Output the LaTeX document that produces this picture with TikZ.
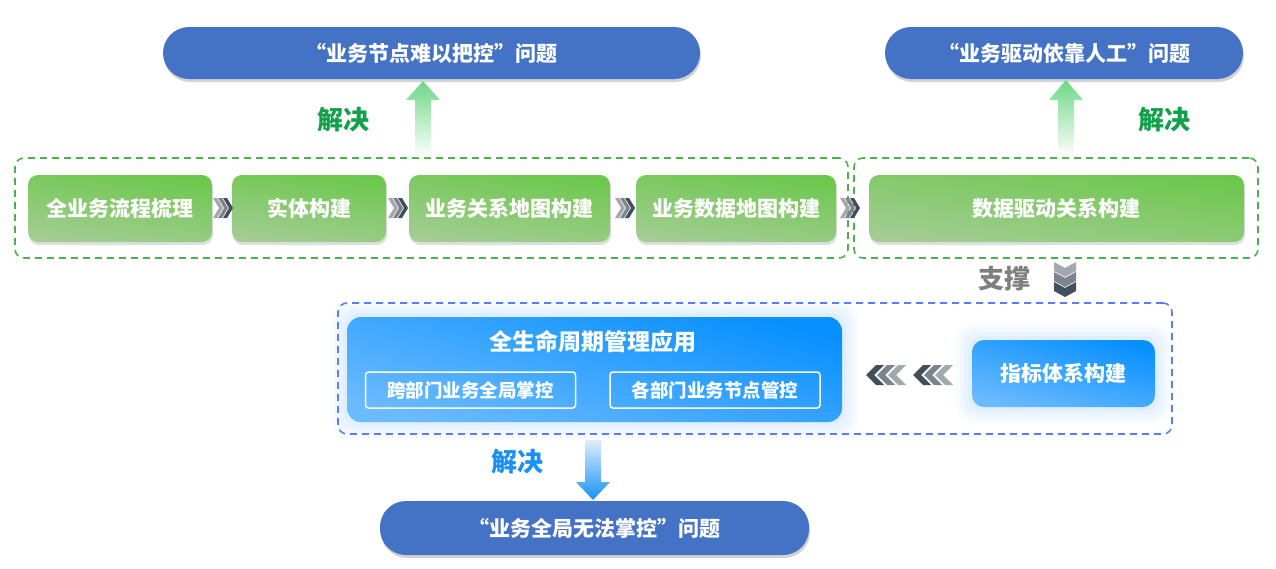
\documentclass[tikz,border=0pt]{standalone}
\usepackage{fontspec}
\setmainfont{Noto Sans CJK SC}
\usetikzlibrary{shadows}
\definecolor{pillblue}{HTML}{4472C4}
\definecolor{gA}{HTML}{A4CC94}
\definecolor{gB}{HTML}{6CC84C}
\definecolor{bA}{HTML}{6ABAFF}
\definecolor{bB}{HTML}{0890FF}
\definecolor{gdashc}{HTML}{4DB04D}
\definecolor{bdashc}{HTML}{5B7CF5}
\definecolor{solveg}{HTML}{12A04A}
\definecolor{solveb}{HTML}{1890F5}
\definecolor{cL}{HTML}{A3A7AE}
\definecolor{cM}{HTML}{7C838E}
\definecolor{cD}{HTML}{434E5C}
\definecolor{supg}{HTML}{7F7F7F}
\definecolor{glow}{HTML}{BFE0FF}
\newcommand\chR[3]{\fill[#3] (#1,#2-10) -- ++(4,0) -- ++(6,10) -- ++(-6,10) -- ++(-4,0) -- ++(6,-10) -- cycle;}
\newcommand\chL[3]{\fill[#3] (#1,#2) -- ++(10,-10) -- ++(8,0) -- ++(-10,10) -- ++(10,10) -- ++(-8,0) -- cycle;}
\newcommand\chD[3]{\fill[#3] (#1-11,#2) -- (#1,#2+6) -- (#1+11,#2) -- (#1+11,#2+9) -- (#1,#2+15) -- (#1-11,#2+9) -- cycle;}
\begin{document}
\begin{tikzpicture}[x=1pt,y=-1pt,
  pill/.style={rounded corners=26pt, fill=pillblue, text=white, font=\fontsize{21}{24}\selectfont\bfseries,
    drop shadow={opacity=0.35, shadow xshift=1pt, shadow yshift=-3pt}},
  gbox/.style={rounded corners=10pt, top color=gA, bottom color=gB, shading angle=172, minimum height=67pt,
    text=white, font=\fontsize{21}{24}\selectfont\bfseries,
    drop shadow={opacity=0.25, shadow xshift=1pt, shadow yshift=-3pt}},
  bbox/.style={rounded corners=14pt, top color=bA, bottom color=bB, shading angle=165,
    text=white, font=\fontsize{21}{24}\selectfont\bfseries},
  subbox/.style={draw=white, line width=1.5pt, rounded corners=3pt, minimum width=210pt, minimum height=36pt,
    text=white, font=\fontsize{18.5}{22}\selectfont\bfseries},
  gdash/.style={draw=gdashc, line width=1.6pt, dash pattern=on 7pt off 5pt, rounded corners=9pt},
  bdash/.style={draw=bdashc, line width=1.6pt, dash pattern=on 7pt off 5pt, rounded corners=9pt},
  solve/.style={font=\fontsize{26}{30}\selectfont\bfseries},
]
\useasboundingbox (0,0) rectangle (1276,568);
\fill[white] (0,0) rectangle (1276,568);

% problem pills
\node[pill, minimum width=537pt, minimum height=52pt] (p1) at (431.5,53) {“业务节点难以把控”问题};
\node[pill, minimum width=358pt, minimum height=52pt] (p2) at (1064,53) {“业务驱动依靠人工”问题};
\node[pill, minimum width=429pt, minimum height=54pt] (p3) at (594.5,528) {“业务全局无法掌控”问题};

% dashed containers
\node[gdash, minimum width=833pt, minimum height=100pt] (g1) at (431.5,208) {};
\node[gdash, minimum width=404pt, minimum height=100pt] (g2) at (1056,208) {};

% glow of blue boxes
\foreach \e/\o in {16/0.10,12/0.12,8/0.15,4/0.2}{
  \fill[glow, opacity=\o, rounded corners=18pt] (347-\e,317-\e) rectangle (842+\e,422+\e);
  \fill[glow, opacity=\o, rounded corners=16pt] (972-\e,340-\e) rectangle (1155+\e,407+\e);
}
\node[bdash, minimum width=834pt, minimum height=131pt] (b0) at (755,368.5) {};

% green step boxes
\node[gbox, minimum width=184pt] (n1) at (120,208.5) {全业务流程梳理};
\node[gbox, minimum width=154pt] (n2) at (309,208.5) {实体构建};
\node[gbox, minimum width=201pt] (n3) at (509.5,208.5) {业务关系地图构建};
\node[gbox, minimum width=200pt] (n4) at (736,208.5) {业务数据地图构建};
\node[gbox, minimum width=375pt] (n5) at (1056.5,208.5) {数据驱动关系构建};

% right chevrons
\foreach \x in {213,388,615,840}{
  \chR{\x}{208}{cL}
  \chR{\x+5}{208}{cM}
  \chR{\x+10}{208}{cD}
}

% blue boxes
\node[bbox, minimum width=495pt, minimum height=105pt] (app) at (594.5,369.5) {};
\node[text=white, font=\fontsize{23}{26}\selectfont\bfseries] (apptitle) at (593,342) {全生命周期管理应用};
\node[subbox] (s1) at (470.5,390) {跨部门业务全局掌控};
\node[subbox] (s2) at (715,390) {各部门业务节点管控};
\node[bbox, minimum width=183pt, minimum height=67pt, rounded corners=12pt] (idx) at (1063.5,373.5) {指标体系构建};

% left chevrons
\foreach \x in {866,913}{
  \chL{\x+22}{375}{cL}
  \chL{\x+11}{375}{cM}
  \chL{\x}{375}{cD}
}

% down chevrons (support)
\chD{1065}{262}{cL}
\chD{1065}{272}{cM}
\chD{1065}{282}{cD}
\node[solve, text=supg] (sup) at (1004,279) {支撑};

% solve arrows
\shade[top color=solveg!70!green!60!white, bottom color=white]
  (415,157) -- (415,100) -- (406,100) -- (423,81) -- (440,100) -- (431,100) -- (431,157) -- cycle;
\shade[top color=solveg!70!green!60!white, bottom color=white]
  (1058,157) -- (1058,100) -- (1049,100) -- (1066,80) -- (1083,100) -- (1074,100) -- (1074,157) -- cycle;
\shade[top color=white!85!solveb, bottom color=solveb]
  (585,440) -- (585,482) -- (576,482) -- (593,500) -- (610,482) -- (601,482) -- (601,440) -- cycle;

\node[solve, text=solveg] (sv1) at (343,120) {解决};
\node[solve, text=solveg] (sv2) at (1164,120) {解决};
\node[solve, text=solveb] (sv3) at (517,462) {解决};
\end{tikzpicture}
\end{document}
